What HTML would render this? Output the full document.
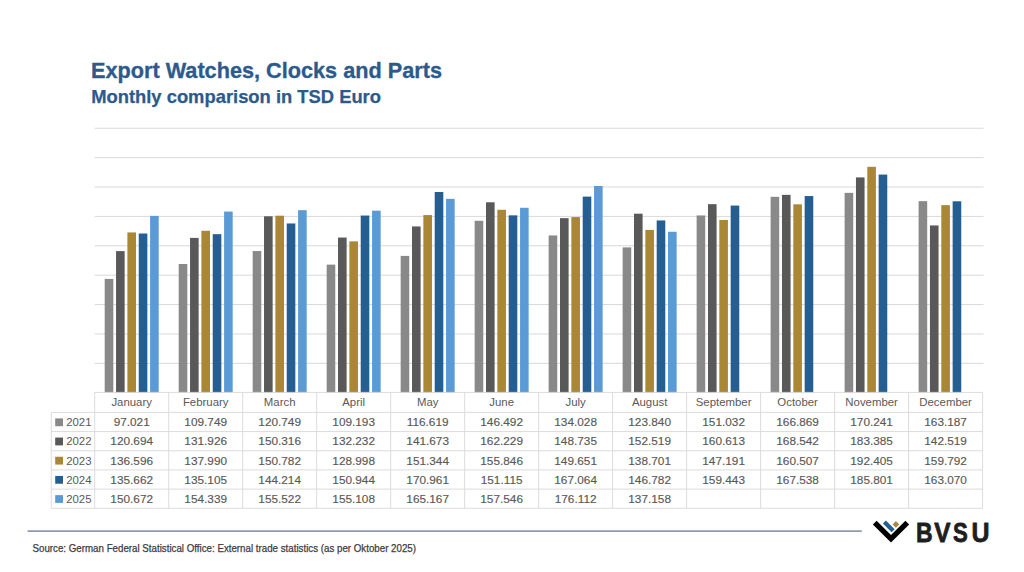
<!DOCTYPE html><html><head><meta charset="utf-8"><style>
html,body{margin:0;padding:0;background:#fff;width:1024px;height:572px;overflow:hidden}
svg{display:block}
text{font-family:"Liberation Sans",sans-serif}
</style></head><body>
<svg width="1024" height="572" viewBox="0 0 1024 572">
<rect width="1024" height="572" fill="#fff"/>
<text x="91.0" y="77.8" font-size="21.6" font-weight="bold" fill="#2C5A8C" stroke="#2C5A8C" stroke-width="0.3" textLength="351.0" lengthAdjust="spacingAndGlyphs">Export Watches, Clocks and Parts</text>
<text x="91.2" y="102.6" font-size="18.2" font-weight="bold" fill="#2C5A8C" stroke="#2C5A8C" stroke-width="0.25" textLength="289.8" lengthAdjust="spacingAndGlyphs">Monthly comparison in TSD Euro</text>
<line x1="94.7" y1="128.23" x2="983.6" y2="128.23" stroke="#D9D9D9" stroke-width="1"/>
<line x1="94.7" y1="157.62" x2="983.6" y2="157.62" stroke="#D9D9D9" stroke-width="1"/>
<line x1="94.7" y1="187.01" x2="983.6" y2="187.01" stroke="#D9D9D9" stroke-width="1"/>
<line x1="94.7" y1="216.4" x2="983.6" y2="216.4" stroke="#D9D9D9" stroke-width="1"/>
<line x1="94.7" y1="245.79" x2="983.6" y2="245.79" stroke="#D9D9D9" stroke-width="1"/>
<line x1="94.7" y1="275.18" x2="983.6" y2="275.18" stroke="#D9D9D9" stroke-width="1"/>
<line x1="94.7" y1="304.57" x2="983.6" y2="304.57" stroke="#D9D9D9" stroke-width="1"/>
<line x1="94.7" y1="333.96" x2="983.6" y2="333.96" stroke="#D9D9D9" stroke-width="1"/>
<line x1="94.7" y1="363.35" x2="983.6" y2="363.35" stroke="#D9D9D9" stroke-width="1"/>
<rect x="104.7" y="278.94" width="8.6" height="114.06" fill="#898989"/>
<rect x="116.05" y="251.11" width="8.6" height="141.89" fill="#595959"/>
<rect x="127.4" y="232.42" width="8.6" height="160.58" fill="#AA8734"/>
<rect x="138.75" y="233.52" width="8.6" height="159.48" fill="#255E91"/>
<rect x="150.1" y="215.87" width="8.6" height="177.13" fill="#5B9BD5"/>
<rect x="178.69" y="263.98" width="8.6" height="129.02" fill="#898989"/>
<rect x="190.04" y="237.91" width="8.6" height="155.09" fill="#595959"/>
<rect x="201.39" y="230.78" width="8.6" height="162.22" fill="#AA8734"/>
<rect x="212.74" y="234.17" width="8.6" height="158.83" fill="#255E91"/>
<rect x="224.09" y="211.56" width="8.6" height="181.44" fill="#5B9BD5"/>
<rect x="252.68" y="251.05" width="8.6" height="141.95" fill="#898989"/>
<rect x="264.03" y="216.29" width="8.6" height="176.71" fill="#595959"/>
<rect x="275.38" y="215.74" width="8.6" height="177.26" fill="#AA8734"/>
<rect x="286.73" y="223.46" width="8.6" height="169.54" fill="#255E91"/>
<rect x="298.08" y="210.17" width="8.6" height="182.83" fill="#5B9BD5"/>
<rect x="326.67" y="264.63" width="8.6" height="128.37" fill="#898989"/>
<rect x="338.02" y="237.55" width="8.6" height="155.45" fill="#595959"/>
<rect x="349.37" y="241.35" width="8.6" height="151.65" fill="#AA8734"/>
<rect x="360.72" y="215.55" width="8.6" height="177.45" fill="#255E91"/>
<rect x="372.07" y="210.66" width="8.6" height="182.34" fill="#5B9BD5"/>
<rect x="400.66" y="255.9" width="8.6" height="137.1" fill="#898989"/>
<rect x="412.01" y="226.45" width="8.6" height="166.55" fill="#595959"/>
<rect x="423.36" y="215.08" width="8.6" height="177.92" fill="#AA8734"/>
<rect x="434.71" y="192.02" width="8.6" height="200.98" fill="#255E91"/>
<rect x="446.06" y="198.83" width="8.6" height="194.17" fill="#5B9BD5"/>
<rect x="474.65" y="220.78" width="8.6" height="172.22" fill="#898989"/>
<rect x="486" y="202.28" width="8.6" height="190.72" fill="#595959"/>
<rect x="497.35" y="209.79" width="8.6" height="183.21" fill="#AA8734"/>
<rect x="508.7" y="215.35" width="8.6" height="177.65" fill="#255E91"/>
<rect x="520.05" y="207.79" width="8.6" height="185.21" fill="#5B9BD5"/>
<rect x="548.65" y="235.44" width="8.6" height="157.56" fill="#898989"/>
<rect x="560" y="218.15" width="8.6" height="174.85" fill="#595959"/>
<rect x="571.35" y="217.07" width="8.6" height="175.93" fill="#AA8734"/>
<rect x="582.7" y="196.6" width="8.6" height="196.4" fill="#255E91"/>
<rect x="594.05" y="185.96" width="8.6" height="207.04" fill="#5B9BD5"/>
<rect x="622.64" y="247.41" width="8.6" height="145.59" fill="#898989"/>
<rect x="633.99" y="213.7" width="8.6" height="179.3" fill="#595959"/>
<rect x="645.34" y="229.94" width="8.6" height="163.06" fill="#AA8734"/>
<rect x="656.69" y="220.44" width="8.6" height="172.56" fill="#255E91"/>
<rect x="668.04" y="231.76" width="8.6" height="161.24" fill="#5B9BD5"/>
<rect x="696.63" y="215.45" width="8.6" height="177.55" fill="#898989"/>
<rect x="707.98" y="204.18" width="8.6" height="188.82" fill="#595959"/>
<rect x="719.33" y="219.96" width="8.6" height="173.04" fill="#AA8734"/>
<rect x="730.68" y="205.56" width="8.6" height="187.44" fill="#255E91"/>
<rect x="770.62" y="196.83" width="8.6" height="196.17" fill="#898989"/>
<rect x="781.97" y="194.86" width="8.6" height="198.14" fill="#595959"/>
<rect x="793.32" y="204.31" width="8.6" height="188.69" fill="#AA8734"/>
<rect x="804.67" y="196.04" width="8.6" height="196.96" fill="#255E91"/>
<rect x="844.61" y="192.86" width="8.6" height="200.14" fill="#898989"/>
<rect x="855.96" y="177.41" width="8.6" height="215.59" fill="#595959"/>
<rect x="867.31" y="166.81" width="8.6" height="226.19" fill="#AA8734"/>
<rect x="878.66" y="174.57" width="8.6" height="218.43" fill="#255E91"/>
<rect x="918.6" y="201.16" width="8.6" height="191.84" fill="#898989"/>
<rect x="929.95" y="225.45" width="8.6" height="167.55" fill="#595959"/>
<rect x="941.3" y="205.15" width="8.6" height="187.85" fill="#AA8734"/>
<rect x="952.65" y="201.29" width="8.6" height="191.71" fill="#255E91"/>
<line x1="94.7" y1="392.4" x2="982.6" y2="392.4" stroke="#DCDCDC" stroke-width="1"/>
<line x1="51.25" y1="412.4" x2="982.6" y2="412.4" stroke="#DCDCDC" stroke-width="1"/>
<line x1="51.25" y1="431.58" x2="982.6" y2="431.58" stroke="#DCDCDC" stroke-width="1"/>
<line x1="51.25" y1="450.76" x2="982.6" y2="450.76" stroke="#DCDCDC" stroke-width="1"/>
<line x1="51.25" y1="469.94" x2="982.6" y2="469.94" stroke="#DCDCDC" stroke-width="1"/>
<line x1="51.25" y1="489.12" x2="982.6" y2="489.12" stroke="#DCDCDC" stroke-width="1"/>
<line x1="51.25" y1="508.3" x2="982.6" y2="508.3" stroke="#DCDCDC" stroke-width="1"/>
<line x1="51.25" y1="412.4" x2="51.25" y2="508.3" stroke="#DCDCDC" stroke-width="1"/>
<line x1="94.7" y1="392.4" x2="94.7" y2="508.3" stroke="#DCDCDC" stroke-width="1"/>
<line x1="168.69" y1="392.4" x2="168.69" y2="508.3" stroke="#DCDCDC" stroke-width="1"/>
<line x1="242.68" y1="392.4" x2="242.68" y2="508.3" stroke="#DCDCDC" stroke-width="1"/>
<line x1="316.67" y1="392.4" x2="316.67" y2="508.3" stroke="#DCDCDC" stroke-width="1"/>
<line x1="390.67" y1="392.4" x2="390.67" y2="508.3" stroke="#DCDCDC" stroke-width="1"/>
<line x1="464.66" y1="392.4" x2="464.66" y2="508.3" stroke="#DCDCDC" stroke-width="1"/>
<line x1="538.65" y1="392.4" x2="538.65" y2="508.3" stroke="#DCDCDC" stroke-width="1"/>
<line x1="612.64" y1="392.4" x2="612.64" y2="508.3" stroke="#DCDCDC" stroke-width="1"/>
<line x1="686.63" y1="392.4" x2="686.63" y2="508.3" stroke="#DCDCDC" stroke-width="1"/>
<line x1="760.62" y1="392.4" x2="760.62" y2="508.3" stroke="#DCDCDC" stroke-width="1"/>
<line x1="834.62" y1="392.4" x2="834.62" y2="508.3" stroke="#DCDCDC" stroke-width="1"/>
<line x1="908.61" y1="392.4" x2="908.61" y2="508.3" stroke="#DCDCDC" stroke-width="1"/>
<line x1="982.6" y1="392.4" x2="982.6" y2="508.3" stroke="#DCDCDC" stroke-width="1"/>
<text x="131.7" y="406.1" font-size="11.4" fill="#595959" text-anchor="middle">January</text>
<text x="205.69" y="406.1" font-size="11.4" fill="#595959" text-anchor="middle">February</text>
<text x="279.68" y="406.1" font-size="11.4" fill="#595959" text-anchor="middle">March</text>
<text x="353.67" y="406.1" font-size="11.4" fill="#595959" text-anchor="middle">April</text>
<text x="427.66" y="406.1" font-size="11.4" fill="#595959" text-anchor="middle">May</text>
<text x="501.65" y="406.1" font-size="11.4" fill="#595959" text-anchor="middle">June</text>
<text x="575.65" y="406.1" font-size="11.4" fill="#595959" text-anchor="middle">July</text>
<text x="649.64" y="406.1" font-size="11.4" fill="#595959" text-anchor="middle">August</text>
<text x="723.63" y="406.1" font-size="11.4" fill="#595959" text-anchor="middle">September</text>
<text x="797.62" y="406.1" font-size="11.4" fill="#595959" text-anchor="middle">October</text>
<text x="871.61" y="406.1" font-size="11.4" fill="#595959" text-anchor="middle">November</text>
<text x="945.6" y="406.1" font-size="11.4" fill="#595959" text-anchor="middle">December</text>
<rect x="55.2" y="418.4" width="7.8" height="7.8" fill="#898989"/>
<text x="66.2" y="426.2" font-size="11.4" fill="#595959">2021</text>
<text x="131.7" y="426.2" font-size="11.8" fill="#595959" stroke="#595959" stroke-width="0.15" text-anchor="middle">97.021</text>
<text x="205.69" y="426.2" font-size="11.8" fill="#595959" stroke="#595959" stroke-width="0.15" text-anchor="middle">109.749</text>
<text x="279.68" y="426.2" font-size="11.8" fill="#595959" stroke="#595959" stroke-width="0.15" text-anchor="middle">120.749</text>
<text x="353.67" y="426.2" font-size="11.8" fill="#595959" stroke="#595959" stroke-width="0.15" text-anchor="middle">109.193</text>
<text x="427.66" y="426.2" font-size="11.8" fill="#595959" stroke="#595959" stroke-width="0.15" text-anchor="middle">116.619</text>
<text x="501.65" y="426.2" font-size="11.8" fill="#595959" stroke="#595959" stroke-width="0.15" text-anchor="middle">146.492</text>
<text x="575.65" y="426.2" font-size="11.8" fill="#595959" stroke="#595959" stroke-width="0.15" text-anchor="middle">134.028</text>
<text x="649.64" y="426.2" font-size="11.8" fill="#595959" stroke="#595959" stroke-width="0.15" text-anchor="middle">123.840</text>
<text x="723.63" y="426.2" font-size="11.8" fill="#595959" stroke="#595959" stroke-width="0.15" text-anchor="middle">151.032</text>
<text x="797.62" y="426.2" font-size="11.8" fill="#595959" stroke="#595959" stroke-width="0.15" text-anchor="middle">166.869</text>
<text x="871.61" y="426.2" font-size="11.8" fill="#595959" stroke="#595959" stroke-width="0.15" text-anchor="middle">170.241</text>
<text x="945.6" y="426.2" font-size="11.8" fill="#595959" stroke="#595959" stroke-width="0.15" text-anchor="middle">163.187</text>
<rect x="55.2" y="437.58" width="7.8" height="7.8" fill="#595959"/>
<text x="66.2" y="445.38" font-size="11.4" fill="#595959">2022</text>
<text x="131.7" y="445.38" font-size="11.8" fill="#595959" stroke="#595959" stroke-width="0.15" text-anchor="middle">120.694</text>
<text x="205.69" y="445.38" font-size="11.8" fill="#595959" stroke="#595959" stroke-width="0.15" text-anchor="middle">131.926</text>
<text x="279.68" y="445.38" font-size="11.8" fill="#595959" stroke="#595959" stroke-width="0.15" text-anchor="middle">150.316</text>
<text x="353.67" y="445.38" font-size="11.8" fill="#595959" stroke="#595959" stroke-width="0.15" text-anchor="middle">132.232</text>
<text x="427.66" y="445.38" font-size="11.8" fill="#595959" stroke="#595959" stroke-width="0.15" text-anchor="middle">141.673</text>
<text x="501.65" y="445.38" font-size="11.8" fill="#595959" stroke="#595959" stroke-width="0.15" text-anchor="middle">162.229</text>
<text x="575.65" y="445.38" font-size="11.8" fill="#595959" stroke="#595959" stroke-width="0.15" text-anchor="middle">148.735</text>
<text x="649.64" y="445.38" font-size="11.8" fill="#595959" stroke="#595959" stroke-width="0.15" text-anchor="middle">152.519</text>
<text x="723.63" y="445.38" font-size="11.8" fill="#595959" stroke="#595959" stroke-width="0.15" text-anchor="middle">160.613</text>
<text x="797.62" y="445.38" font-size="11.8" fill="#595959" stroke="#595959" stroke-width="0.15" text-anchor="middle">168.542</text>
<text x="871.61" y="445.38" font-size="11.8" fill="#595959" stroke="#595959" stroke-width="0.15" text-anchor="middle">183.385</text>
<text x="945.6" y="445.38" font-size="11.8" fill="#595959" stroke="#595959" stroke-width="0.15" text-anchor="middle">142.519</text>
<rect x="55.2" y="456.76" width="7.8" height="7.8" fill="#AA8734"/>
<text x="66.2" y="464.56" font-size="11.4" fill="#595959">2023</text>
<text x="131.7" y="464.56" font-size="11.8" fill="#595959" stroke="#595959" stroke-width="0.15" text-anchor="middle">136.596</text>
<text x="205.69" y="464.56" font-size="11.8" fill="#595959" stroke="#595959" stroke-width="0.15" text-anchor="middle">137.990</text>
<text x="279.68" y="464.56" font-size="11.8" fill="#595959" stroke="#595959" stroke-width="0.15" text-anchor="middle">150.782</text>
<text x="353.67" y="464.56" font-size="11.8" fill="#595959" stroke="#595959" stroke-width="0.15" text-anchor="middle">128.998</text>
<text x="427.66" y="464.56" font-size="11.8" fill="#595959" stroke="#595959" stroke-width="0.15" text-anchor="middle">151.344</text>
<text x="501.65" y="464.56" font-size="11.8" fill="#595959" stroke="#595959" stroke-width="0.15" text-anchor="middle">155.846</text>
<text x="575.65" y="464.56" font-size="11.8" fill="#595959" stroke="#595959" stroke-width="0.15" text-anchor="middle">149.651</text>
<text x="649.64" y="464.56" font-size="11.8" fill="#595959" stroke="#595959" stroke-width="0.15" text-anchor="middle">138.701</text>
<text x="723.63" y="464.56" font-size="11.8" fill="#595959" stroke="#595959" stroke-width="0.15" text-anchor="middle">147.191</text>
<text x="797.62" y="464.56" font-size="11.8" fill="#595959" stroke="#595959" stroke-width="0.15" text-anchor="middle">160.507</text>
<text x="871.61" y="464.56" font-size="11.8" fill="#595959" stroke="#595959" stroke-width="0.15" text-anchor="middle">192.405</text>
<text x="945.6" y="464.56" font-size="11.8" fill="#595959" stroke="#595959" stroke-width="0.15" text-anchor="middle">159.792</text>
<rect x="55.2" y="475.94" width="7.8" height="7.8" fill="#255E91"/>
<text x="66.2" y="483.74" font-size="11.4" fill="#595959">2024</text>
<text x="131.7" y="483.74" font-size="11.8" fill="#595959" stroke="#595959" stroke-width="0.15" text-anchor="middle">135.662</text>
<text x="205.69" y="483.74" font-size="11.8" fill="#595959" stroke="#595959" stroke-width="0.15" text-anchor="middle">135.105</text>
<text x="279.68" y="483.74" font-size="11.8" fill="#595959" stroke="#595959" stroke-width="0.15" text-anchor="middle">144.214</text>
<text x="353.67" y="483.74" font-size="11.8" fill="#595959" stroke="#595959" stroke-width="0.15" text-anchor="middle">150.944</text>
<text x="427.66" y="483.74" font-size="11.8" fill="#595959" stroke="#595959" stroke-width="0.15" text-anchor="middle">170.961</text>
<text x="501.65" y="483.74" font-size="11.8" fill="#595959" stroke="#595959" stroke-width="0.15" text-anchor="middle">151.115</text>
<text x="575.65" y="483.74" font-size="11.8" fill="#595959" stroke="#595959" stroke-width="0.15" text-anchor="middle">167.064</text>
<text x="649.64" y="483.74" font-size="11.8" fill="#595959" stroke="#595959" stroke-width="0.15" text-anchor="middle">146.782</text>
<text x="723.63" y="483.74" font-size="11.8" fill="#595959" stroke="#595959" stroke-width="0.15" text-anchor="middle">159.443</text>
<text x="797.62" y="483.74" font-size="11.8" fill="#595959" stroke="#595959" stroke-width="0.15" text-anchor="middle">167.538</text>
<text x="871.61" y="483.74" font-size="11.8" fill="#595959" stroke="#595959" stroke-width="0.15" text-anchor="middle">185.801</text>
<text x="945.6" y="483.74" font-size="11.8" fill="#595959" stroke="#595959" stroke-width="0.15" text-anchor="middle">163.070</text>
<rect x="55.2" y="495.12" width="7.8" height="7.8" fill="#5B9BD5"/>
<text x="66.2" y="502.92" font-size="11.4" fill="#595959">2025</text>
<text x="131.7" y="502.92" font-size="11.8" fill="#595959" stroke="#595959" stroke-width="0.15" text-anchor="middle">150.672</text>
<text x="205.69" y="502.92" font-size="11.8" fill="#595959" stroke="#595959" stroke-width="0.15" text-anchor="middle">154.339</text>
<text x="279.68" y="502.92" font-size="11.8" fill="#595959" stroke="#595959" stroke-width="0.15" text-anchor="middle">155.522</text>
<text x="353.67" y="502.92" font-size="11.8" fill="#595959" stroke="#595959" stroke-width="0.15" text-anchor="middle">155.108</text>
<text x="427.66" y="502.92" font-size="11.8" fill="#595959" stroke="#595959" stroke-width="0.15" text-anchor="middle">165.167</text>
<text x="501.65" y="502.92" font-size="11.8" fill="#595959" stroke="#595959" stroke-width="0.15" text-anchor="middle">157.546</text>
<text x="575.65" y="502.92" font-size="11.8" fill="#595959" stroke="#595959" stroke-width="0.15" text-anchor="middle">176.112</text>
<text x="649.64" y="502.92" font-size="11.8" fill="#595959" stroke="#595959" stroke-width="0.15" text-anchor="middle">137.158</text>
<line x1="27.6" y1="531.1" x2="861.8" y2="531.1" stroke="#8C9BB0" stroke-width="1.6"/>
<text x="32.5" y="551.7" font-size="10.6" fill="#3C3C3C" stroke="#3C3C3C" stroke-width="0.25" textLength="383.5" lengthAdjust="spacingAndGlyphs">Source: German Federal Statistical Office: External trade statistics (as per Oktober 2025)</text>
<polygon points="872.85,524.45 876.6,520.7 891,535.1 905.4,520.7 909.15,524.45 891,542.6" fill="#000"/>
<polygon points="882.9,523.6 885.9,520.6 894.6,529.3 891.6,532.3" fill="#255E91"/>
<polygon points="895.9,521.1 899.2,524.4 895.9,527.7 892.6,524.4" fill="#A8883C"/>
<text transform="translate(916.03,542.1) scale(0.8140,1)" x="0" y="0" font-size="28.3" font-weight="bold" fill="#1E1E1E" stroke="#1E1E1E" stroke-width="0.8" stroke-linejoin="round">B</text>
<text transform="translate(934.33,542.1) scale(0.8606,1)" x="0" y="0" font-size="28.3" font-weight="bold" fill="#1E1E1E" stroke="#1E1E1E" stroke-width="0.8" stroke-linejoin="round">V</text>
<text transform="translate(953.12,542.1) scale(0.7829,1)" x="0" y="0" font-size="28.3" font-weight="bold" fill="#1E1E1E" stroke="#1E1E1E" stroke-width="0.8" stroke-linejoin="round">S</text>
<text transform="translate(971.40,542.1) scale(0.8815,1)" x="0" y="0" font-size="28.3" font-weight="bold" fill="#1E1E1E" stroke="#1E1E1E" stroke-width="0.8" stroke-linejoin="round">U</text>
</svg></body></html>
